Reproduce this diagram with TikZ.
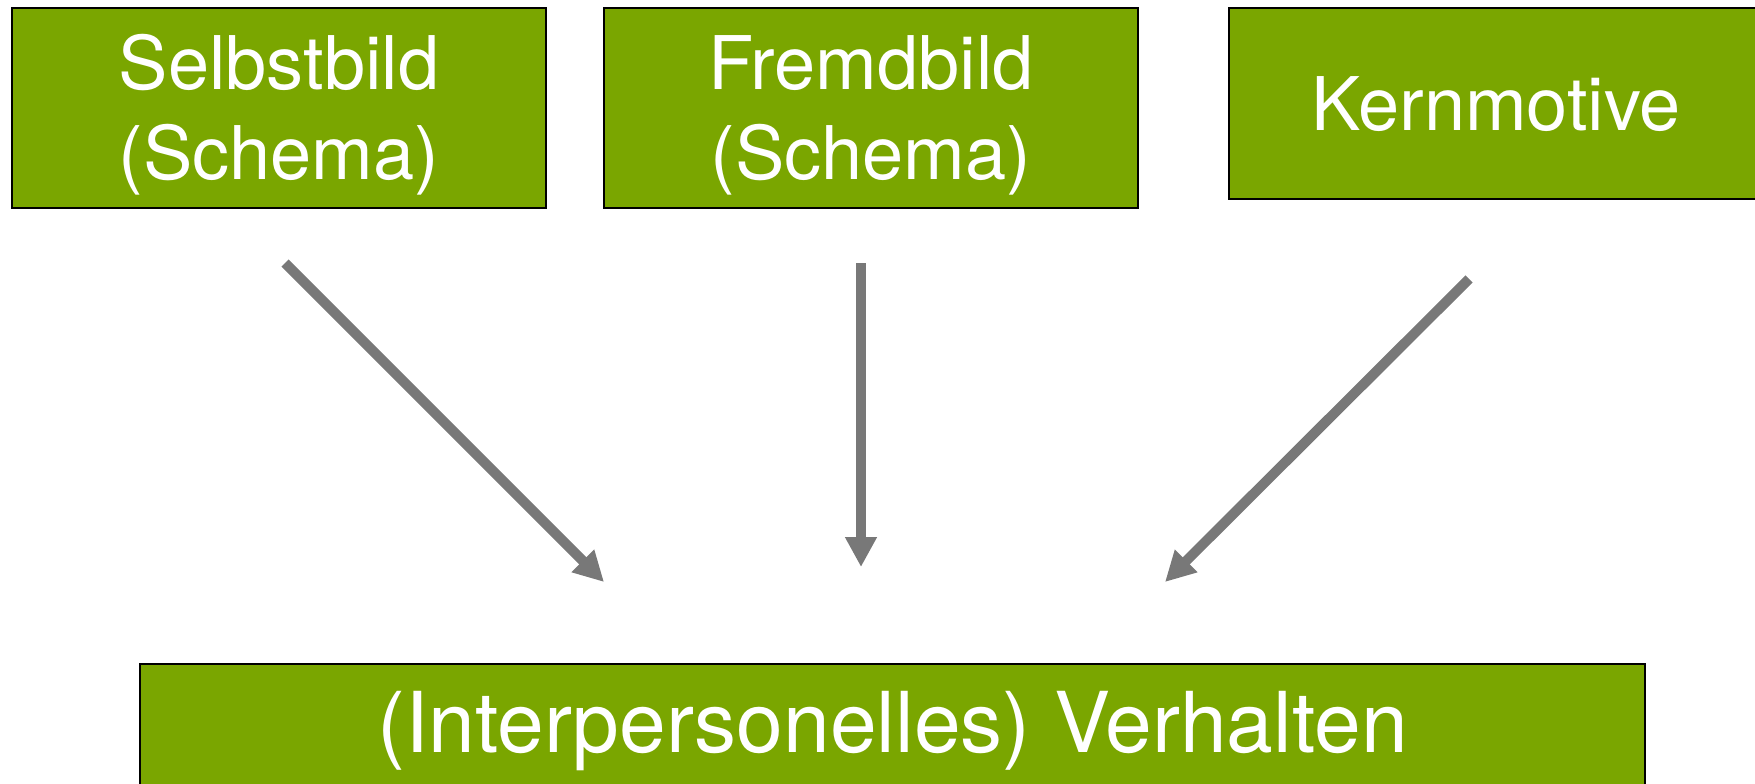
\documentclass[tikz,border=0pt]{standalone}
\usepackage{fontspec}
\setmainfont{TeX Gyre Heros}
\usetikzlibrary{arrows.meta}
\definecolor{kastengruen}{RGB}{122,166,0}
\definecolor{pfeilgrau}{RGB}{120,120,120}

\begin{document}
\begin{tikzpicture}[x=0.5pt,y=0.5pt,yscale=-1,xscale=1,
    kasten/.style={draw=black, line width=1pt, fill=kastengruen, text=white,
      inner sep=0pt, align=center, font=\fontsize{37}{44.8}\selectfont},
    pfeil/.style={draw=pfeilgrau, line width=5pt, -{Triangle[width=15pt,length=15pt]}}]
    \useasboundingbox (0,0) rectangle (1755,783);

    % Boxes, top row
    \node[kasten, minimum width=267pt, minimum height=100pt, text height=71.4pt, text depth=0pt] (selbstbild) at (279,108) {Selbstbild\\(Schema)};
    \node[kasten, minimum width=267pt, minimum height=100pt, text height=71.4pt, text depth=0pt] (fremdbild) at (871,108) {Fremdbild\\(Schema)};
    \node[kasten, minimum width=267pt, minimum height=95.5pt, text height=26.6pt, text depth=0pt] (kernmotive) at (1496,103.5) {Kernmotive};

    % Box, bottom
    \node[kasten, font=\fontsize{42}{50}\selectfont, minimum width=752.5pt, minimum height=70pt, text height=30.1pt, text depth=12.1pt] (verhalten) at (892.5,734) {(Interpersonelles) Verhalten};

    % Arrow ends
    \coordinate (pfeilA) at (285,263);
    \coordinate (spitzeA) at (604,582);
    \coordinate (pfeilB) at (861,263);
    \coordinate (spitzeB) at (861,567);
    \coordinate (pfeilC) at (1469,279);
    \coordinate (spitzeC) at (1165,582);

    \draw[pfeil] (pfeilA) -- (spitzeA);
    \draw[pfeil] (pfeilB) -- (spitzeB);
    \draw[pfeil] (pfeilC) -- (spitzeC);

\end{tikzpicture}
\end{document}
